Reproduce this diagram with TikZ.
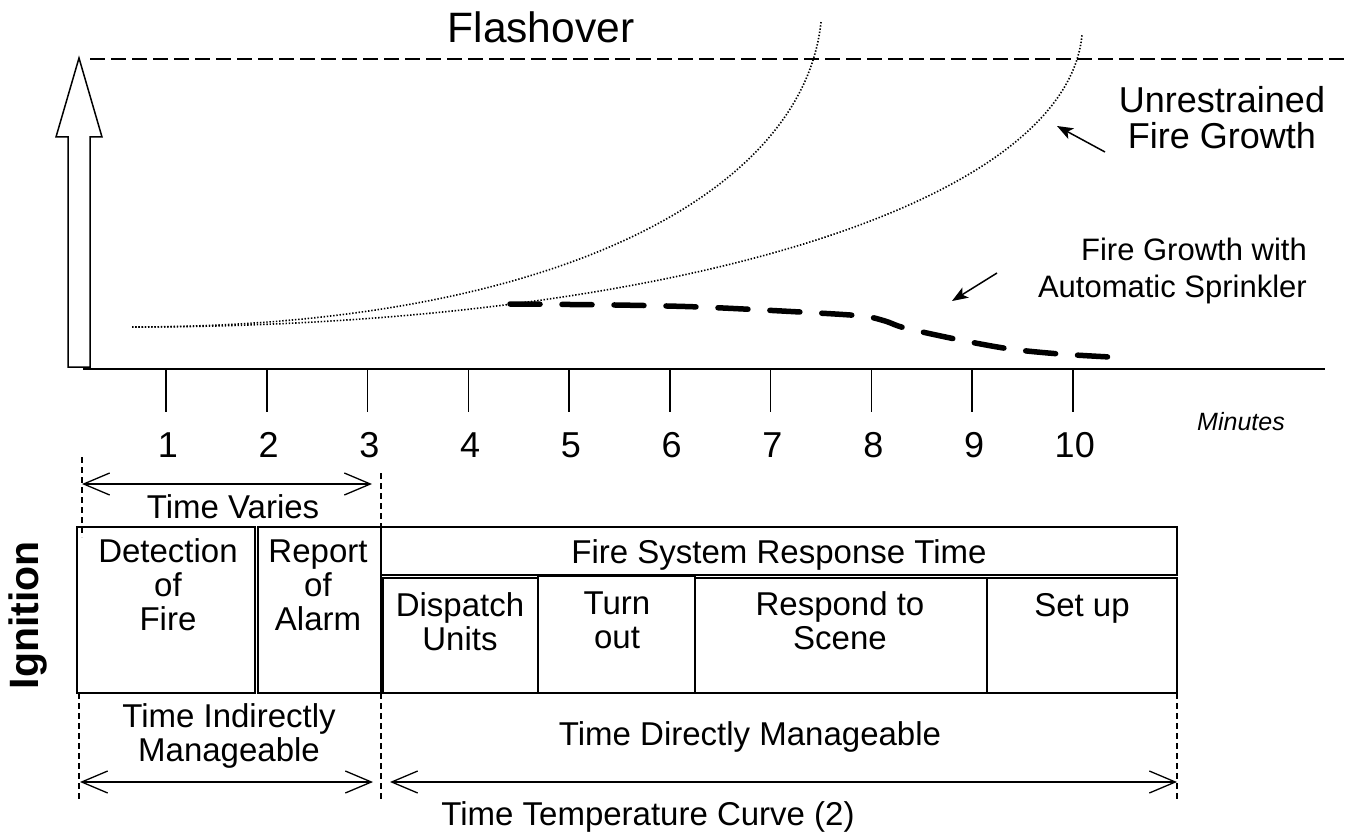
\documentclass[tikz,border=0pt]{standalone}
\usepackage{fontspec}
\setmainfont{Liberation Sans}
\usetikzlibrary{arrows.meta}
\begin{document}
\begin{tikzpicture}[x=1pt,y=-1pt,
  lbl/.style={inner sep=0pt, align=center, font=\fontsize{33}{34}\selectfont},
  num/.style={inner sep=0pt, font=\fontsize{36}{36}\selectfont},
  box/.style={draw, line width=1.3pt, inner sep=0pt, outer sep=0pt},
  axisline/.style={line width=1.5pt},
  vdash/.style={line width=1.2pt, dash pattern=on 6pt off 4pt},
  dbl/.style={line width=1.3pt, {Straight Barb[length=26pt,width=22pt]}-{Straight Barb[length=26pt,width=22pt]}},
  ptr/.style={line width=1.5pt, -{Stealth[length=16pt,width=12pt,inset=4pt]}},
  fine/.style={line width=1.6pt, dash pattern=on 1.4pt off 1.8pt},
  sprink/.style={line width=5.5pt, line cap=round, dash pattern=on 30pt off 22pt},
]
\useasboundingbox (0,0) rectangle (1346,837);

% block arrow (temperature axis)
\draw[line width=1.5pt, line join=miter] (68,367) -- (68,137) -- (56,137) -- (79,58) -- (102,137) -- (90,137) -- (90,367) -- cycle;

% flashover line
\coordinate (fl0) at (90,59);
\coordinate (fl1) at (1346,59);
\draw[line width=1.5pt, dash pattern=on 15pt off 6pt] (fl0) -- (fl1);
\node[inner sep=0pt, font=\fontsize{42.5}{42.5}\selectfont] (flash) at (541,27) {Flashover};

% time axis
\coordinate (ax0) at (83,369);
\coordinate (ax1) at (1325,369);
\draw[axisline] (ax0) -- (ax1);
\foreach \i in {1,...,10} {
  \pgfmathsetmacro\xx{166+100.75*(\i-1)}
  \coordinate (tk\i) at (\xx,369);
  \coordinate (tb\i) at (\xx,412);
  \draw[axisline] (tk\i) -- (tb\i);
  \node[num] (n\i) at (\xx+2,445) {\i};
}
\node[inner sep=0pt, font=\fontsize{25}{25}\selectfont\itshape] (minutes) at (1241,422) {Minutes};

% unrestrained growth curves
\coordinate (c0) at (132,327);
\coordinate (c1) at (821,22);
\coordinate (c2) at (1082,35);
\draw[fine] (c0) .. controls (550,327) and (803,195) .. (c1);
\draw[fine] (c0) .. controls (650,327) and (1065,210) .. (c2);

% sprinkler curve
\draw[sprink] plot[smooth, tension=0.5] coordinates {(510,304) (615,305) (700,307) (800,312) (862,316) (885,321) (905,328) (960,340) (1010,349) (1060,354) (1110,357)};

% curve labels
\node[lbl, font=\fontsize{36}{36}\selectfont] (unr) at (1222,118) {Unrestrained\\Fire Growth};
\coordinate (ua1) at (1105,152);
\coordinate (ua2) at (1057,126);
\draw[ptr] (ua1) -- (ua2);
\node[lbl, align=right, anchor=east, font=\fontsize{31}{37}\selectfont] (spr) at (1307,271) {Fire Growth with\\Automatic Sprinkler};
\coordinate (sa1) at (997,273);
\coordinate (sa2) at (952,301);
\draw[ptr] (sa1) -- (sa2);

% Ignition
\node[inner sep=0pt, rotate=90, font=\fontsize{41}{41}\selectfont\bfseries] (ign) at (28,615) {Ignition};

% dashed guides
\coordinate (d1a) at (82,457);  \coordinate (d1b) at (82,537);
\coordinate (d2a) at (381,473); \coordinate (d2b) at (381,527);
\coordinate (d3a) at (79,693);  \coordinate (d3b) at (79,800);
\coordinate (d4a) at (381,693); \coordinate (d4b) at (381,800);
\coordinate (d5a) at (1177,693); \coordinate (d5b) at (1177,800);
\draw[vdash] (d1a) -- (d1b);
\draw[vdash] (d2a) -- (d2b);
\draw[vdash] (d3a) -- (d3b);
\draw[vdash] (d4a) -- (d4b);
\draw[vdash] (d5a) -- (d5b);

% Time varies
\coordinate (tv0) at (82,484);
\coordinate (tv1) at (372,484);
\draw[dbl] (tv0) -- (tv1);
\node[lbl] (tvary) at (233,507) {Time Varies};

% boxes
\node[box, minimum width=178pt, minimum height=166pt] (det) at (166,610) {};
\node[box, minimum width=123pt, minimum height=166pt] (rep) at (319.5,610) {};
\node[box, minimum width=796pt, minimum height=48pt] (fsr) at (779,551) {};
\node[box, minimum width=155pt, minimum height=115pt] (dis) at (460.5,635.5) {};
\node[box, minimum width=157pt, minimum height=117pt] (turn) at (616.5,634.5) {};
\node[box, minimum width=292pt, minimum height=115pt] (resp) at (841,635.5) {};
\node[box, minimum width=190pt, minimum height=115pt] (setup) at (1082,635.5) {};

\node[lbl] (detT) at (168,585) {Detection\\of\\Fire};
\node[lbl] (repT) at (318,585) {Report\\of\\Alarm};
\node[lbl] (fsrT) at (779,555) {Fire System Response Time};
\node[lbl] (disT) at (460,622) {Dispatch\\Units};
\node[lbl] (turnT) at (617,620) {Turn\\out};
\node[lbl] (respT) at (840,621) {Respond to\\Scene};
\node[lbl] (setT) at (1082,608) {Set up};

% manageability
\node[lbl] (tind) at (229,736) {Time Indirectly\\Manageable};
\node[lbl] (tdir) at (750,737) {Time Directly Manageable};
\coordinate (b1a) at (80,782);  \coordinate (b1b) at (373,782);
\coordinate (b2a) at (390,782); \coordinate (b2b) at (1177,782);
\draw[dbl] (b1a) -- (b1b);
\draw[dbl] (b2a) -- (b2b);

\node[lbl] (title) at (648,817) {Time Temperature Curve (2)};
\end{tikzpicture}
\end{document}
